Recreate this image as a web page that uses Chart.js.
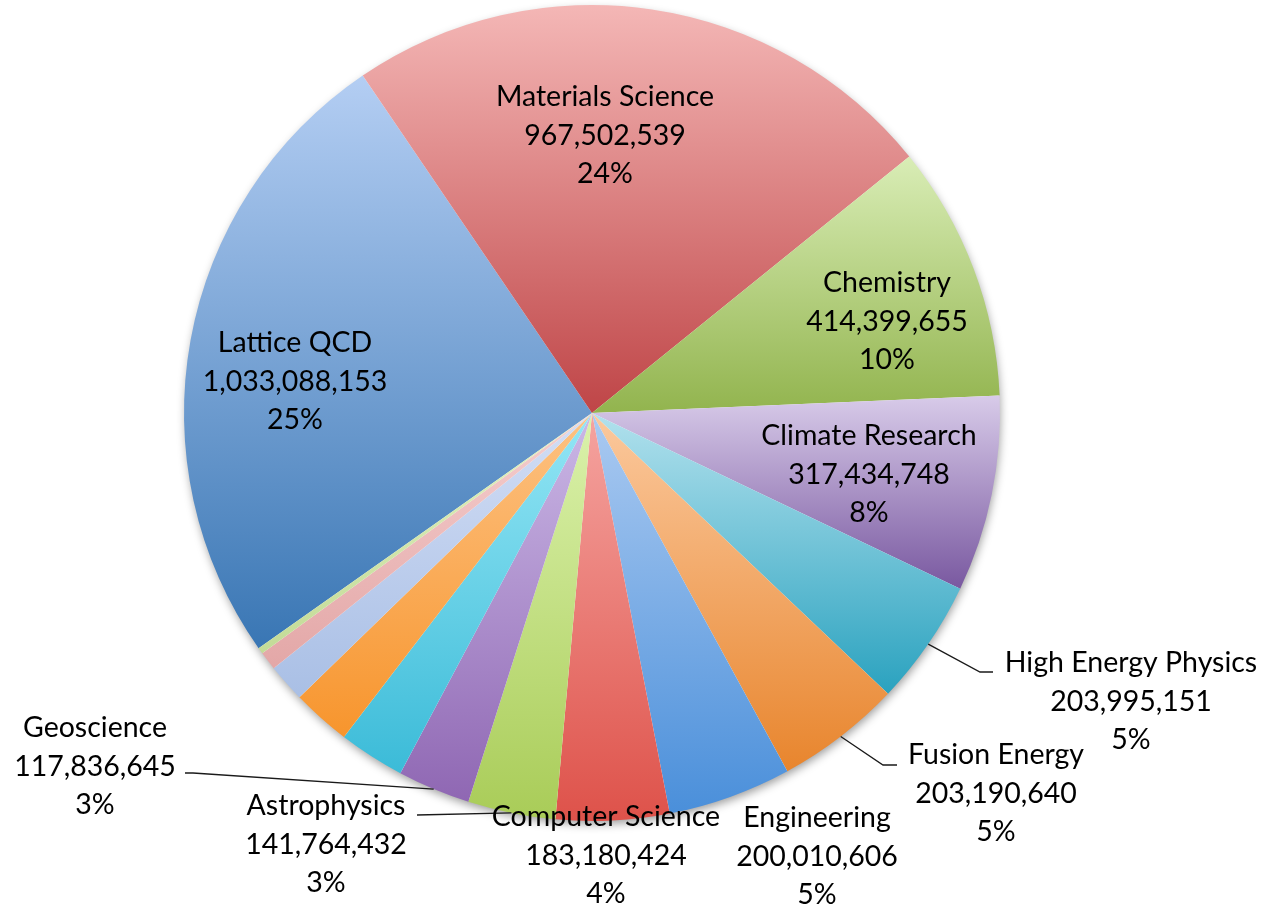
<!DOCTYPE html>
<html>
<head>
<meta charset="utf-8">
<title>Allocation by science domain</title>
<script src="https://cdn.jsdelivr.net/npm/chart.js@4.4.0/dist/chart.umd.min.js"></script>
<style>
  html, body { margin: 0; padding: 0; background: #fff; }
  #wrap { width: 1270px; height: 910px; position: relative; }
</style>
</head>
<body>
<div id="wrap"><canvas id="pieChart"></canvas></div>
<script>
// domains, largest first; the last five slices carry no label
const domains = [
    "Lattice QCD", "Materials Science", "Chemistry", "Climate Research",
    "High Energy Physics", "Fusion Energy", "Engineering", "Computer Science",
    "Astrophysics", "Geoscience", "Other A", "Other B", "Other C", "Other D", "Other E"
];
const hours = [
    1033088153, 967502539, 414399655, 317434748,
    203995151, 203190640, 200010606, 183180424,
    141764432, 117836645, 107000000, 95000000, 62000000, 30000000, 10000000
];

// gradient ends for each slice (top -> bottom)
const sliceTop = [
    "#b4cef3", "#f4b7b6", "#d9edb6", "#d8cbe9", "#b2e1ed", "#fbc99e", "#abcaf1", "#f5a4a0",
    "#dbf2ac", "#cbb8e6", "#94e6f5", "#fdc283", "#d3def5", "#f5cfcf", "#e2f1c3"
];
const sliceBottom = [
    "#3976b4", "#bf4547", "#92b44e", "#7958a0", "#2aa2bf", "#e8852d", "#4a8fda", "#de524a",
    "#a9cc58", "#8f67b3", "#3bbbd8", "#f7952d", "#a9bfe5", "#e3a7a7", "#c3db97"
];

const ROTATION = 234.8;   // degrees clockwise from 12 o'clock where the first slice starts
const LINE_GAP = 38.5;

// where each label block sits (centre of its first line); leader lines run from the slice edge through `line`
const labelSpots = {
    0: { x: 295, y: 343 },
    1: { x: 605, y: 97 },
    2: { x: 887, y: 283 },
    3: { x: 869, y: 436 },
    4: { x: 1131, y: 663, line: [[980, 672], [993, 672]] },
    5: { x: 996, y: 755, line: [[883, 765], [897, 765]] },
    6: { x: 817, y: 818 },
    7: { x: 606, y: 817 },
    8: { x: 326, y: 806, line: [[417, 815]] },
    9: { x: 95, y: 728, line: [[193, 773], [185, 773]] }
};

const total = hours.reduce((a, b) => a + b, 0);

// vertical gradient spanning the bounding box of each wedge
function sliceGradient(context) {
    const chart = context.chart;
    const area = chart.chartArea;
    const i = context.dataIndex;
    if (!area || i === undefined) return sliceBottom[i] || "#cccccc";

    const cx = (area.left + area.right) / 2;
    const cy = (area.top + area.bottom) / 2;
    const r = Math.min(area.right - area.left, area.bottom - area.top) / 2;

    let before = 0;
    for (let k = 0; k < i; k++) before += hours[k];
    const a0 = ROTATION + before / total * 360;
    const a1 = a0 + hours[i] / total * 360;
    const yAt = a => cy - r * Math.cos(a * Math.PI / 180);

    const ys = [cy, yAt(a0), yAt(a1)];
    for (let k = Math.ceil(a0 / 180); k * 180 <= a1; k++) {
        ys.push(k % 2 === 0 ? cy - r : cy + r);
    }
    const g = chart.ctx.createLinearGradient(0, Math.min(...ys), 0, Math.max(...ys));
    g.addColorStop(0, sliceTop[i]);
    g.addColorStop(1, sliceBottom[i]);
    return g;
}

// soft drop shadow under the whole pie
const pieShadow = {
    id: "pieShadow",
    beforeDatasetsDraw(chart) {
        const arc = chart.getDatasetMeta(0).data[0];
        if (!arc) return;
        const c = chart.ctx;
        c.save();
        c.shadowColor = "rgba(0,0,0,0.4)";
        c.shadowBlur = 10;
        c.shadowOffsetX = 1;
        c.shadowOffsetY = 4;
        c.beginPath();
        c.arc(arc.x, arc.y, arc.outerRadius - 1, 0, Math.PI * 2);
        c.fillStyle = "#ffffff";
        c.fill();
        c.restore();
    }
};

// name / value / percent labels plus leader lines
const sliceLabels = {
    id: "sliceLabels",
    afterDatasetsDraw(chart) {
        const meta = chart.getDatasetMeta(0);
        const c = chart.ctx;
        c.save();

        c.strokeStyle = "#1a1a1a";
        c.lineWidth = 1.3;
        meta.data.forEach((arc, i) => {
            const spot = labelSpots[i];
            if (!spot || !spot.line) return;
            const mid = (arc.startAngle + arc.endAngle) / 2;
            c.beginPath();
            c.moveTo(arc.x + Math.cos(mid) * arc.outerRadius, arc.y + Math.sin(mid) * arc.outerRadius);
            spot.line.forEach(p => c.lineTo(p[0], p[1]));
            c.stroke();
        });

        c.fillStyle = "#000000";
        c.font = "28.5px Lato";
        c.textAlign = "center";
        c.textBaseline = "middle";
        meta.data.forEach((arc, i) => {
            const spot = labelSpots[i];
            if (!spot) return;
            const lines = [
                domains[i],
                hours[i].toLocaleString("en-US"),
                Math.round(hours[i] / total * 100) + "%"
            ];
            lines.forEach((t, k) => c.fillText(t, spot.x, spot.y + k * LINE_GAP));
        });
        c.restore();
    }
};

const ctx = document.getElementById("pieChart").getContext("2d");
new Chart(ctx, {
    type: "pie",
    data: {
        labels: domains,
        datasets: [{
            data: hours,
            backgroundColor: sliceGradient,
            borderWidth: 0,
            hoverOffset: 0
        }]
    },
    options: {
        responsive: true,
        maintainAspectRatio: false,
        animation: false,
        rotation: ROTATION,
        layout: { padding: { left: 184, right: 270, top: 5, bottom: 89 } },
        plugins: {
            legend: { display: false },
            tooltip: { enabled: false }
        }
    },
    plugins: [pieShadow, sliceLabels]
});
</script>
</body>
</html>
